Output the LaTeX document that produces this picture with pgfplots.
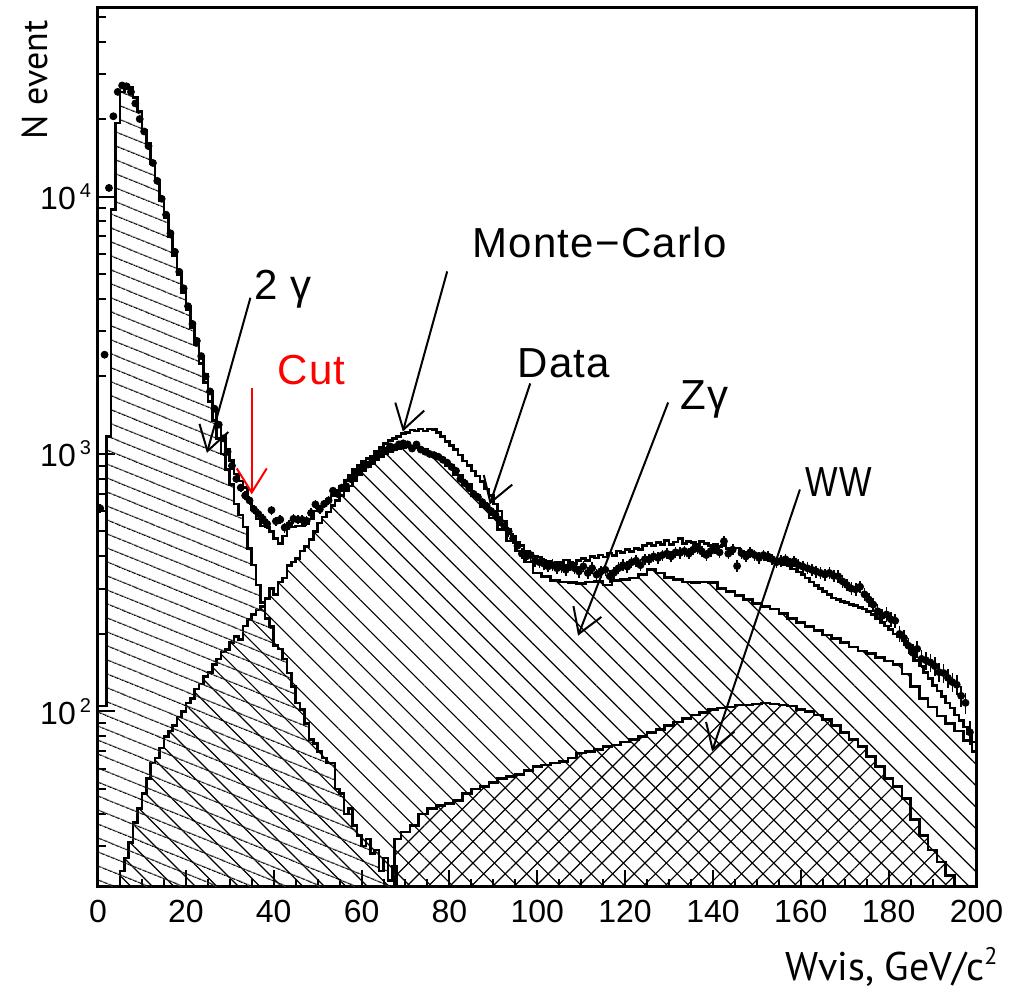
\documentclass[border=0pt]{standalone}
\usepackage{fontspec}
\setmainfont{Liberation Sans}
\newfontfamily\higz{Liberation Sans}[LetterSpace=3]
\newfontfamily\lab{PT Sans}
\usepackage{pgfplots}
\pgfplotsset{compat=1.18}
\usetikzlibrary{patterns.meta,arrows.meta}
\begin{document}
\begin{tikzpicture}
\useasboundingbox (-49pt,-52.5pt) rectangle (463pt,443.5pt);
\begin{axis}[
  at={(0,0)}, anchor=south west,
  width=439.25pt, height=439.5pt, scale only axis,
  xmin=0, xmax=200, ymode=log, ymin=20.8, ymax=54000,
  axis line style={line width=1.5pt},
  tick align=inside, xtick pos=bottom, ytick pos=left,
  xtick={0,20,...,200}, minor x tick num=3,
  ytick={100,1000,10000},
  minor ytick={30,40,50,60,70,80,90,200,300,400,500,600,700,800,900,2000,3000,4000,5000,6000,7000,8000,9000,20000,30000,40000,50000},
  yticklabels={10\hspace{2pt}\raisebox{6pt}{\fontsize{10}{10}\selectfont 2},10\hspace{2pt}\raisebox{6pt}{\fontsize{10}{10}\selectfont 3},10\hspace{2pt}\raisebox{6pt}{\fontsize{10}{10}\selectfont 4}},
  major tick length=8.5pt, minor tick length=4pt,
  every tick/.style={line width=1pt, black},
  /pgf/number format/assume math mode=true,
  xticklabel style={font=\fontsize{16}{16}\selectfont, yshift=-3pt},
  yticklabel style={font=\fontsize{16}{16}\selectfont},
  xlabel={Wvis, GeV/c\raisebox{8pt}{\fontsize{12}{12}\selectfont 2}},
  xlabel style={font=\lab\fontsize{20}{20}\selectfont, at={(axis description cs:1.032,-0.106)}, anchor=base east},
  ylabel={N event},
  ylabel style={font=\lab\fontsize{18}{18}\selectfont, at={(axis description cs:-0.0717,0.918)}, anchor=center, rotate=0},
  clip=true,
]
% Z gamma
\addplot[const plot, draw=black, line width=1.3pt, pattern={Lines[angle=-45,distance=7.6pt,line width=0.6pt]}] table[row sep=\\] {
x y\\
5 24\\ 6 27\\ 7 31\\ 8 37\\ 9 42\\ 10 48\\ 11 55\\ 12 63\\ 13 66\\ 14 72\\ 15 80\\ 16 84\\ 17 88\\ 18 95\\ 19 100\\
20 108\\ 21 112\\ 22 122\\ 23 128\\ 24 137\\ 25 142\\ 26 152\\ 27 160\\ 28 170\\ 29 174\\ 30 185\\ 31 196\\ 32 190\\
33 215\\ 34 228\\ 35 238\\ 36 248\\ 37 255\\ 38 275\\ 39 300\\ 40 285\\ 41 318\\ 42 330\\ 43 368\\ 44 380\\ 45 392\\
46 420\\ 47 438\\ 48 465\\ 49 500\\ 50 540\\ 51 570\\ 52 595\\ 53 630\\ 54 660\\ 55 690\\ 56 720\\ 57 750\\ 58 790\\
59 830\\ 60 860\\ 61 890\\ 62 920\\ 63 950\\ 64 975\\ 65 1000\\ 66 1020\\ 67 1035\\ 68 1050\\ 69 1060\\ 70 1065\\
71 1060\\ 73 1040\\ 75 1000\\ 77 960\\ 79 900\\ 81 830\\ 83 760\\ 85 690\\ 87 625\\ 89 565\\ 91 510\\ 93 460\\
95 420\\ 97 380\\ 99 345\\ 101 335\\ 103 322\\ 105 318\\ 107 316\\ 109 314\\ 111 318\\ 113 320\\ 115 310\\ 117 322\\
119 326\\ 121 330\\ 123 340\\ 125 356\\ 127 345\\ 129 332\\ 131 325\\ 133 318\\ 135 316\\ 137 318\\ 139 316\\
141 300\\ 143 292\\ 145 282\\ 147 272\\ 149 262\\ 151 256\\ 153 250\\ 155 240\\ 157 230\\ 159 222\\ 161 214\\
163 206\\ 165 198\\ 167 192\\ 169 185\\ 171 178\\ 173 172\\ 175 168\\ 177 162\\ 179 157\\ 181 152\\ 183 140\\
185 125\\ 187 112\\ 189 104\\ 191 96\\ 193 90\\ 195 84\\ 197 77\\ 199 70\\ 200 70\\
} \closedcycle;
% WW
\addplot[const plot, draw=black, line width=1.3pt, pattern={Lines[angle=45,distance=7.6pt,line width=0.6pt]}] table[row sep=\\] {
x y\\
67.5 32\\ 69 34\\ 71 36\\ 73 40\\ 75 42\\ 77 43\\ 79 44\\ 81 45\\ 83 48\\ 85 50\\ 87 51\\ 89 53\\ 91 55\\ 93 56\\
95 57\\ 97 59\\ 99 61\\ 101 62\\ 103 63\\ 105 64\\ 107 66\\ 109 69\\ 111 70\\ 113 71\\ 115 73\\ 117 74\\ 119 76\\
121 78\\ 123 80\\ 125 83\\ 127 85\\ 129 88\\ 131 91\\ 133 94\\ 135 97\\ 137 99\\ 139 102\\ 141 103\\ 143 104\\
145 106\\ 147 106\\ 149 107\\ 151 108\\ 153 107\\ 155 106\\ 157 105\\ 159 102\\ 161 100\\ 163 97\\ 165 93\\
167 88\\ 169 83\\ 171 78\\ 173 73\\ 175 67\\ 177 61\\ 179 55\\ 181 51\\ 183 46\\ 185 38\\ 187 33\\ 189 29\\
191 26\\ 193 23\\ 195 23\\
} \closedcycle;
% two-photon
\addplot[const plot, draw=black, line width=1.3pt, pattern={Lines[angle=-22,distance=6.4pt,line width=0.6pt]}] table[row sep=\\] {
x y\\
0 105\\ 1 105\\ 2 1170\\ 3 8900\\ 4 19300\\ 5 25500\\ 6 27000\\ 7 26500\\ 8 24200\\ 9 21400\\ 10 18100\\
11 16000\\ 12 13400\\ 13 11500\\ 14 9600\\ 15 8300\\ 16 7000\\ 17 5900\\ 18 4950\\ 19 4250\\ 20 3650\\
21 3100\\ 22 2650\\ 23 2250\\ 24 1900\\ 25 1600\\ 26 1350\\ 27 1150\\ 28 1000\\ 29 870\\ 30 760\\ 31 640\\
32 580\\ 33 520\\ 34 430\\ 35 370\\ 36 310\\ 37 265\\ 38 230\\ 39 214\\ 40 180\\ 41 175\\ 42 160\\ 43 141\\
44 125\\ 45 108\\ 46 102\\ 47 90\\ 48 78\\ 49 75\\ 50 70\\ 51 66\\ 52 63\\ 53 63\\ 54 50\\ 55 48\\ 56 40\\
57 42\\ 58 36\\ 59 33\\ 60 30\\ 61 32\\ 62 28\\ 63 29\\ 64 24\\ 65 27\\ 66 22\\ 67 25\\ 68 25\\
} \closedcycle;
% Monte-Carlo total
\addplot[const plot, draw=black, line width=1.3pt, no marks] table[row sep=\\] {
x y\\
0 105\\ 1 105\\ 2 1170\\ 3 8900\\ 4 19300\\ 5 25500\\ 6 27000\\ 7 26500\\ 8 24200\\ 9 21400\\ 10 18100\\
11 16100\\ 12 13500\\ 13 11600\\ 14 9700\\ 15 8400\\ 16 7100\\ 17 6000\\ 18 5050\\ 19 4350\\ 20 3760\\
21 3215\\ 22 2770\\ 23 2380\\ 24 2040\\ 25 1745\\ 26 1500\\ 27 1310\\ 28 1170\\ 29 1045\\ 30 945\\ 31 836\\
32 785\\ 33 740\\ 34 660\\ 35 610\\ 36 560\\ 37 525\\ 38 520\\ 39 500\\ 40 470\\ 41 448\\ 42 480\\ 43 540\\
44 520\\ 45 525\\ 46 525\\ 47 535\\ 48 560\\ 49 600\\ 50 620\\ 51 640\\ 52 665\\ 53 690\\ 54 720\\ 55 750\\
56 790\\ 57 830\\ 58 870\\ 59 900\\ 60 935\\ 61 960\\ 62 980\\ 63 1020\\ 64 1060\\ 65 1100\\ 66 1130\\
67 1150\\ 68 1170\\ 69 1200\\ 70 1210\\ 71 1240\\ 72 1230\\ 73 1250\\ 74 1230\\ 75 1250\\ 76 1245\\
77 1210\\ 78 1170\\ 79 1120\\ 80 1080\\ 81 1040\\ 82 990\\ 83 940\\ 84 900\\ 85 860\\ 86 820\\ 87 780\\
88 730\\ 89 690\\ 90 640\\ 91 600\\ 92 550\\ 93 510\\ 94 480\\ 95 455\\ 96 440\\ 97 420\\ 98 410\\ 99 402\\
100 398\\ 101 388\\ 102 382\\ 103 376\\ 104 380\\ 105 372\\ 106 388\\ 107 380\\ 108 376\\ 109 386\\
110 392\\ 111 386\\ 112 400\\ 113 394\\ 114 405\\ 115 398\\ 116 413\\ 117 404\\ 118 420\\ 119 414\\
120 426\\ 121 418\\ 122 430\\ 123 425\\ 124 440\\ 125 448\\ 126 440\\ 127 452\\ 128 444\\ 129 462\\
130 445\\ 131 455\\ 132 470\\ 133 450\\ 134 456\\ 135 452\\ 136 446\\ 137 456\\ 138 448\\ 139 440\\
140 446\\ 141 436\\ 142 440\\ 143 430\\ 144 426\\ 145 432\\ 146 420\\ 147 416\\ 148 410\\ 149 404\\
150 398\\ 151 394\\ 152 390\\ 153 385\\ 154 378\\ 155 375\\ 156 370\\ 157 367\\ 158 358\\ 159 348\\
160 340\\ 161 330\\ 162 318\\ 163 308\\ 164 300\\ 165 292\\ 166 285\\ 167 276\\ 168 272\\ 169 268\\
170 265\\ 171 260\\ 172 258\\ 173 254\\ 174 250\\ 175 245\\ 176 238\\ 177 230\\ 178 222\\ 179 215\\
180 208\\ 181 200\\ 182 195\\ 183 188\\ 184 178\\ 185 168\\ 186 158\\ 187 150\\ 188 142\\ 189 134\\
190 126\\ 191 120\\ 192 114\\ 193 108\\ 194 103\\ 195 97\\ 196 92\\ 197 87\\ 198 82\\ 199 76\\ 200 76\\
};
% Data
\addplot[only marks, mark=*, mark size=1.75pt, black,
  error bars/.cd, y dir=both, y explicit, error mark=none,
  error bar style={line width=0.8pt, black}]
  table[row sep=\\, x=x, y=y, y error expr={sqrt(\thisrow{y})}] {
x y\\
0.5 615\\ 1.5 2430\\ 2.5 10800\\ 3.5 20500\\ 4.5 25500\\ 5.5 27000\\ 6.5 26800\\ 7.5 25500\\ 8.5 23000\\
9.5 20000\\ 10.5 17900\\ 11.5 15700\\ 12.5 13500\\ 13.5 11500\\ 14.5 9800\\ 15.5 8500\\ 16.5 7200\\
17.5 6100\\ 18.5 5100\\ 19.5 4400\\ 20.5 3750\\ 21.5 3200\\ 22.5 2750\\ 23.5 2400\\ 24.5 2000\\
25.5 1750\\ 26.5 1500\\ 27.5 1300\\ 28.5 1150\\ 29.5 1020\\ 30.5 900\\ 31.5 800\\ 32.5 740\\ 33.5 690\\
34.5 660\\ 35.5 610\\ 36.5 585\\ 37.5 560\\ 38.5 535\\ 39.5 605\\ 40.5 548\\ 41.5 556\\ 42.5 518\\
43.5 530\\ 44.5 560\\ 45.5 556\\ 46.5 555\\ 47.5 550\\ 48.5 590\\ 49.5 637\\ 50.5 610\\ 51.5 640\\
52.5 660\\ 53.5 720\\ 54.5 700\\ 55.5 740\\ 56.5 750\\ 57.5 800\\ 58.5 830\\ 59.5 860\\ 60.5 890\\
61.5 910\\ 62.5 950\\ 63.5 980\\ 64.5 1010\\ 65.5 1030\\ 66.5 1070\\ 67.5 1060\\ 68.5 1090\\ 69.5 1100\\
70.5 1090\\ 71.5 1050\\ 72.5 1089\\ 73.5 1040\\ 74.5 1020\\ 75.5 1000\\ 76.5 990\\ 77.5 975\\ 78.5 950\\
79.5 925\\ 80.5 890\\ 81.5 860\\ 82.5 800\\ 83.5 770\\ 84.5 740\\ 85.5 700\\ 86.5 680\\ 87.5 650\\
88.5 627\\ 89.5 600\\ 90.5 580\\ 91.5 550\\ 92.5 525\\ 93.5 500\\ 94.5 470\\ 95.5 440\\ 96.5 410\\
97.5 400\\ 98.5 405\\ 99.5 385\\ 100.5 380\\ 101.5 375\\ 102.5 366\\ 103.5 370\\ 104.5 360\\ 105.5 365\\
106.5 355\\ 107.5 370\\ 108.5 360\\ 109.5 350\\ 110.5 366\\ 111.5 345\\ 112.5 360\\ 113.5 340\\
114.5 350\\ 115.5 355\\ 116.5 335\\ 117.5 346\\ 118.5 360\\ 119.5 370\\ 120.5 365\\ 121.5 380\\
122.5 385\\ 123.5 370\\ 124.5 390\\ 125.5 389\\ 126.5 400\\ 127.5 395\\ 128.5 405\\ 129.5 410\\
130.5 400\\ 131.5 415\\ 132.5 413\\ 133.5 420\\ 134.5 410\\ 135.5 425\\ 136.5 430\\ 137.5 418\\
138.5 405\\ 139.5 420\\ 140.5 430\\ 141.5 415\\ 142.5 458\\ 143.5 410\\ 144.5 425\\ 145.5 367\\
146.5 412\\ 147.5 400\\ 148.5 415\\ 149.5 405\\ 150.5 395\\ 151.5 405\\ 152.5 400\\ 153.5 390\\
154.5 380\\ 155.5 385\\ 156.5 390\\ 157.5 375\\ 158.5 383\\ 159.5 370\\ 160.5 365\\ 161.5 360\\
162.5 355\\ 163.5 350\\ 164.5 345\\ 165.5 340\\ 166.5 345\\ 167.5 336\\ 168.5 335\\ 169.5 320\\
170.5 310\\ 171.5 300\\ 172.5 298\\ 173.5 305\\ 174.5 285\\ 175.5 272\\ 176.5 260\\ 177.5 245\\
178.5 235\\ 179.5 238\\ 180.5 228\\ 181.5 225\\ 182.5 200\\ 183.5 193\\ 184.5 180\\ 185.5 169\\
186.5 175\\ 187.5 160\\ 188.5 158\\ 189.5 155\\ 190.5 150\\ 191.5 142\\ 192.5 141\\ 193.5 135\\
194.5 130\\ 195.5 127\\ 196.5 115\\ 197.5 108\\ 198.5 83\\
};
% annotations
\tikzset{ann/.style={-{Straight Barb[length=12pt,width=15pt,line width=1pt]}, line width=1pt}}
\draw[ann] (axis cs:34.7,4045) -- (axis cs:24.8,1010);
\node[anchor=base west, inner sep=0pt, font=\higz\fontsize{21}{21}\selectfont] at (axis cs:35.5,3980) {2 γ};
\draw[ann] (axis cs:79.5,5120) -- (axis cs:69.4,1222);
\node[anchor=base west, inner sep=0pt, font=\higz\fontsize{21}{21}\selectfont] at (axis cs:85.1,5800) {Monte−Carlo};
\draw[ann] (axis cs:98.4,1879) -- (axis cs:89.2,637);
\node[anchor=base west, inner sep=0pt, font=\higz\fontsize{21}{21}\selectfont] at (axis cs:95.4,1982) {Data};
\draw[ann] (axis cs:129.8,1585) -- (axis cs:109.3,197);
\node[anchor=base west, inner sep=0pt, font=\higz\fontsize{21}{21}\selectfont] at (axis cs:132.5,1490) {Zγ};
\draw[ann] (axis cs:159.8,728) -- (axis cs:139.8,70);
\node[anchor=base west, inner sep=0pt, font=\higz\fontsize{21}{21}\selectfont] at (axis cs:161,684) {\scalebox{0.82}[1]{WW}};
\draw[ann, red] (axis cs:35,1811) -- (axis cs:35,697);
\node[anchor=base west, inner sep=0pt, red, font=\higz\fontsize{21}{21}\selectfont] at (axis cs:40.8,1862) {Cut};
\end{axis}
\end{tikzpicture}
\end{document}
